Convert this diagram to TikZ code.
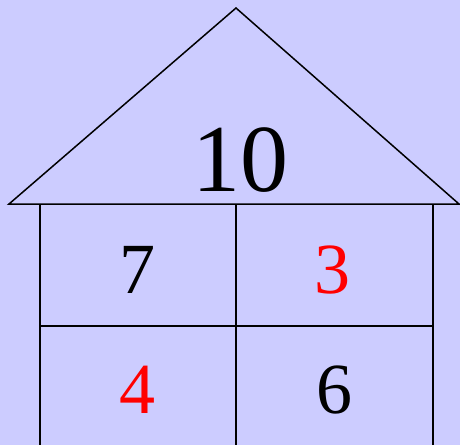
\documentclass[tikz,border=0pt]{standalone}
\usepackage{fontspec}
\setmainfont{Liberation Serif}
\usepackage{tikz}
\usetikzlibrary{positioning}
\definecolor{housebg}{RGB}{204,204,255}
\definecolor{housered}{RGB}{255,0,0}

\begin{document}
\begin{tikzpicture}[x=1pt, y=-1pt,
  wall/.style={draw=black, line width=1.5pt, line join=miter},
  big/.style={font=\fontsize{96}{96}\selectfont, anchor=base, inner sep=0pt},
  num/.style={font=\fontsize{72}{72}\selectfont, anchor=base, inner sep=0pt}
]
  %% Background
  \fill[housebg] (0,0) rectangle (460,445);
  \useasboundingbox (0,0) rectangle (460,445);

  %% Roof
  \draw[wall] (9,204) -- (236,8) -- (459,204) -- cycle;
  %% Walls and cells
  \draw[wall] (40,204) -- (40,445);
  \draw[wall] (236,204) -- (236,445);
  \draw[wall] (433,204) -- (433,445);
  \draw[wall] (40,326) -- (433,326);

  %% Numbers
  \node[big] (total) at (240,191) {10};
  \node[num] (tl) at (137.5,293) {7};
  \node[num, text=housered] (tr) at (332.5,293) {3};
  \node[num, text=housered] (bl) at (137.5,413) {4};
  \node[num] (br) at (334.5,413) {6};
\end{tikzpicture}
\end{document}
